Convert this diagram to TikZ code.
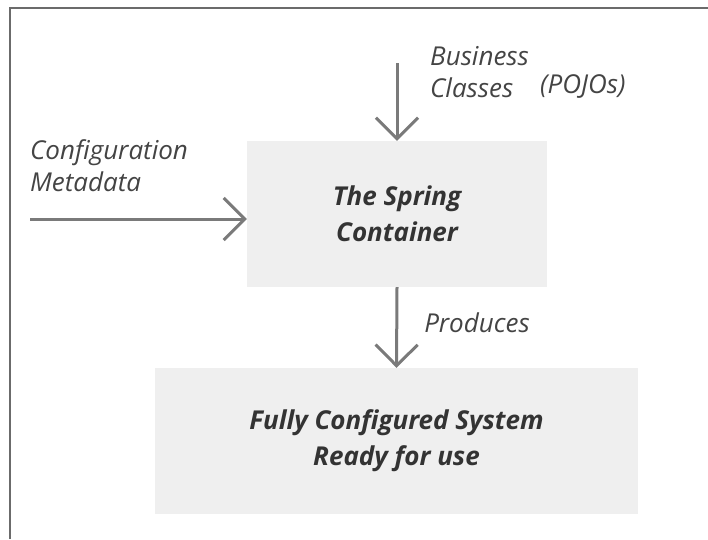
\documentclass[tikz,border=0pt]{standalone}
\usepackage{fontspec}
\setmainfont{Open Sans}
\usepackage{xcolor}
\usetikzlibrary{arrows.meta,positioning}

\definecolor{framegray}{HTML}{6B6B6B}
\definecolor{arrowgray}{HTML}{7A7A7A}
\definecolor{boxfill}{HTML}{EFEFEF}
\definecolor{textgray}{HTML}{444444}
\definecolor{boldgray}{HTML}{333333}

\begin{document}
\begin{tikzpicture}[
    x=1pt, y=-1pt,
    % Grey boxes
    block/.style={rectangle, draw=none, fill=boxfill, align=center,
        font=\fontsize{26}{36}\selectfont\bfseries\itshape, text=boldgray},
    % Free labels
    note/.style={align=left, font=\fontsize{26}{32}\selectfont\itshape,
        text=textgray, inner sep=0pt},
    % Arrow style
    arrow/.style={-{Straight Barb[length=21pt, width=42pt, line width=3pt]},
        line width=3pt, draw=arrowgray}
]
    \useasboundingbox (0,0) rectangle (708,539);

    % Frame (only top and left edges visible)
    \draw[framegray, line width=2pt] (10,539) -- (10,8) -- (708,8);

    % Boxes
    \node[block, minimum width=300pt, minimum height=146pt] (container) at (397,214)
        {The Spring\\Container};
    \node[block, minimum width=483pt, minimum height=146pt] (system) at (396.5,441)
        {Fully Configured System\\Ready for use};

    % Inputs
    \coordinate (classes) at (397,63);
    \coordinate (metadata) at (30,219);
    \node[note, anchor=west] (business) at (430,72) {Business\\Classes};
    \node[note, anchor=west] (pojos) at (540,87) {(POJOs)};
    \node[note, anchor=west] (config) at (30,166) {Configuration\\Metadata};

    % Arrows
    \draw[arrow] (classes) -- (container.north);
    \draw[arrow] (metadata) -- (metadata -| container.west);
    \draw[arrow] (container.south) -- (system.north)
        node[note, midway, right=26pt, yshift=5pt] (produces) {Produces};
\end{tikzpicture}
\end{document}
